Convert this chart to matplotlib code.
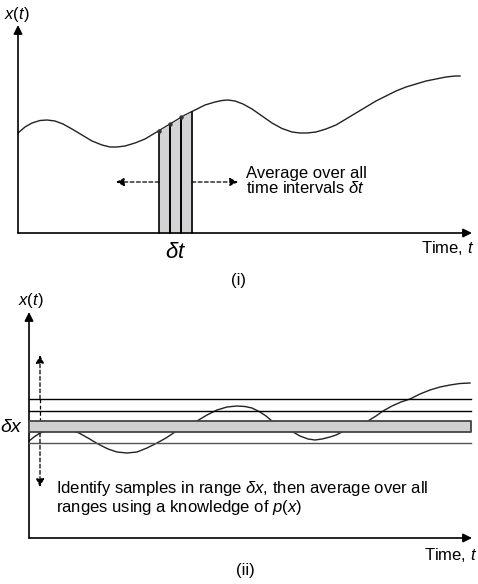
import numpy as np
import matplotlib
matplotlib.use("Agg")
import matplotlib.pyplot as plt

plt.rcParams['font.family'] = ['Liberation Sans', 'DejaVu Sans']
plt.rcParams['mathtext.fontset'] = 'custom'
plt.rcParams['mathtext.rm'] = 'Liberation Sans'
plt.rcParams['mathtext.it'] = 'Liberation Sans:italic'

W, H = 478, 584

# panel (i): signal x(t) (pixel coords)
sig1_x = [18, 25, 32, 40, 47, 55, 63, 72, 82, 92, 102, 110, 117, 125, 135, 145, 155, 165,
          175, 185, 195, 205, 215, 222, 228, 235, 243, 252, 262, 272, 282, 292, 300, 307,
          316, 326, 336, 346, 356, 366, 376, 386, 396, 406, 416, 426, 436, 446, 455, 460]
sig1_y = [133, 127, 123, 120.5, 120, 121, 124, 129, 135, 141, 145, 147, 147, 146, 143, 139,
          133, 127, 121, 115, 110, 105, 102, 100.5, 100, 101, 104, 109, 116, 123, 128.5, 132,
          133, 133, 132, 129, 125, 119, 113, 107, 101, 96, 91, 87, 84, 81, 79, 77, 76, 76]
strip_edges = [159, 170, 181, 192]

# panel (ii): same kind of signal, with the amplitude bands
sig2_x = [29, 34, 40, 50, 60, 70, 79, 88, 98, 108, 117, 127, 137, 147, 157, 166, 175, 185,
          197, 207, 217, 227, 237, 245, 252, 260, 266, 272, 280, 287, 293, 300, 308, 315,
          322, 330, 336, 342, 350, 358, 368, 376, 383, 392, 401, 410, 420, 430, 440, 450,
          460, 470]
sig2_y = [441, 437, 433, 430, 429, 430, 433, 438, 444, 449, 452, 453, 452, 448, 443, 438,
          432, 426, 421, 415, 410, 407, 406, 406.5, 408, 412, 416, 421, 427, 430, 432, 436,
          439, 440, 439, 437, 435, 432, 428, 425, 421, 416, 411, 406, 402, 399, 394, 390,
          387, 385, 383.5, 383]
band_lines = [399, 411, 443]
band_box = (421, 432)

fig = plt.figure(figsize=(W / 100, H / 100), dpi=100)
ax = fig.add_axes([0, 0, 1, 1])
ax.set_xlim(0, W)
ax.set_ylim(H, 0)
ax.axis('off')

def axis_arrow(x0, y0, x1, y1):
    ax.annotate('', xy=(x1, y1), xytext=(x0, y0),
                arrowprops=dict(arrowstyle='-|>', color='black', lw=1.2,
                                mutation_scale=13, shrinkA=0, shrinkB=0))

def dash_arrow(x0, y0, x1, y1):
    ax.annotate('', xy=(x1, y1), xytext=(x0, y0),
                arrowprops=dict(arrowstyle='-|>', color='black', lw=0.9, ls=(0, (3, 2)),
                                mutation_scale=12, shrinkA=0, shrinkB=0))

fs = 12

# ---- panel (i)
axis_arrow(18, 233, 18, 25)
axis_arrow(18, 233, 472, 233)
ax.plot(sig1_x, sig1_y, color='#222', lw=1.0)
for a, b in zip(strip_edges[:-1], strip_edges[1:]):
    xs = np.linspace(a, b, 10)
    top = np.interp(xs, sig1_x, sig1_y)
    ax.fill_between(xs, top, 233, color='#d3d3d6', lw=0, zorder=2)
    ax.plot([a, a], [233, np.interp(a, sig1_x, sig1_y)], color='black', lw=1.2, zorder=3)
    ax.plot([b, b], [233, np.interp(b, sig1_x, sig1_y)], color='black', lw=1.2, zorder=3)
    ax.plot(a, np.interp(a, sig1_x, sig1_y), 'o', color='#333', ms=2.2, zorder=4)
dash_arrow(159, 182, 116, 182)
dash_arrow(192, 182, 238, 182)
ax.text(246, 181, 'Average over all\n' + r'time intervals $\delta t$', fontsize=fs,
        va='center', linespacing=0.95)
ax.text(176, 252, r'$\delta t$', fontsize=16, ha='center', va='center')
ax.text(474, 248, r'Time, $t$', fontsize=fs, ha='right', va='center')
ax.text(239, 281, '(i)', fontsize=fs, ha='center', va='center')
ax.text(4, 14, r'$x(t)$', fontsize=fs, va='center')

# ---- panel (ii)
axis_arrow(29, 538, 29, 312)
axis_arrow(29, 538, 472, 538)
ax.plot(sig2_x, sig2_y, color='#222', lw=1.0, zorder=2)
for i, yl in enumerate(band_lines):
    ax.plot([29, 471], [yl, yl], color='black' if i < 2 else '#555', lw=1.0, zorder=3)
ax.fill_between([29, 471], band_box[0], band_box[1], facecolor='#d0d0d3',
                edgecolor='#444', lw=1.3, zorder=4)
dash_arrow(40, 399, 40, 355)
dash_arrow(40, 433, 40, 487)
ax.plot([40, 40], [399, 421], color='black', lw=0.9, ls=(0, (3, 2)), zorder=2)
ax.text(56, 498, r'Identify samples in range $\delta x$, then average over all' + '\n'
        + r'ranges using a knowledge of $p$($x$)', fontsize=fs, va='center',
        linespacing=0.95)
ax.text(0, 427, r'$\delta x$', fontsize=14, va='center')
ax.text(477, 555, r'Time, $t$', fontsize=fs, ha='right', va='center')
ax.text(245, 571, '(ii)', fontsize=fs, ha='center', va='center')
ax.text(18, 300, r'$x(t)$', fontsize=fs, va='center')

fig.savefig('out.png', dpi=100)
